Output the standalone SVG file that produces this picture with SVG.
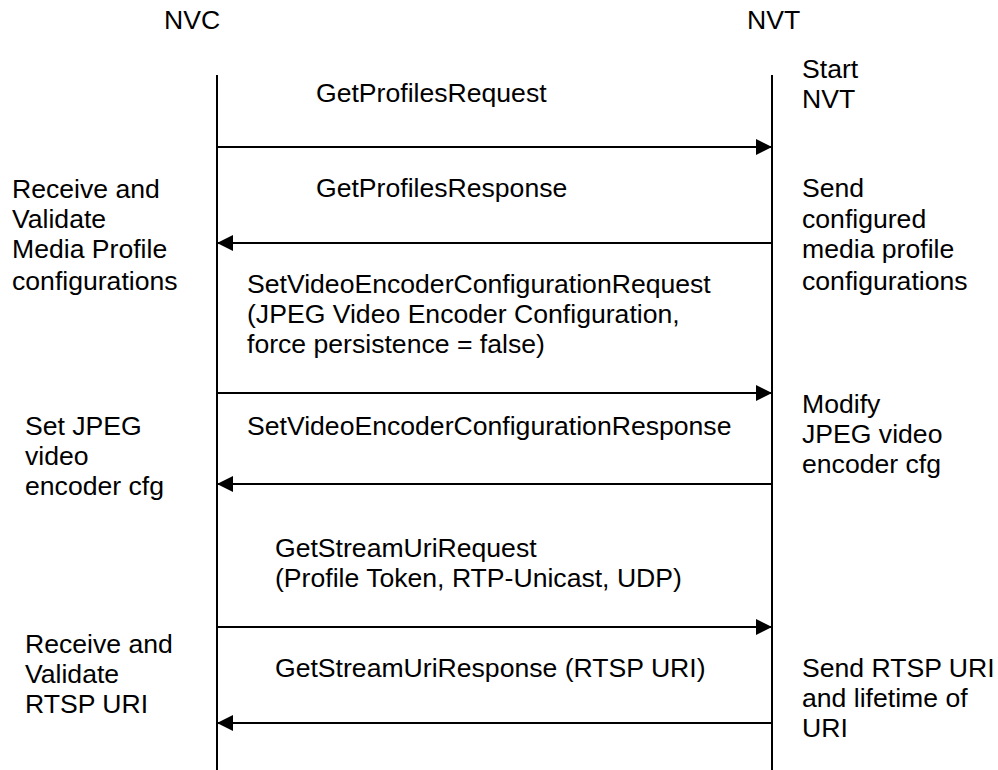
<svg xmlns="http://www.w3.org/2000/svg" width="998" height="770" viewBox="0 0 998 770">
<defs>
<style>
text{font-family:"Liberation Sans",Arial,sans-serif;font-size:26.6px;fill:#000}
.life{stroke:#000;stroke-width:2;fill:none}
.msg{stroke:#000;stroke-width:2;fill:none;marker-end:url(#ah)}
</style>
<marker id="ah" markerUnits="userSpaceOnUse" markerWidth="16" markerHeight="16" refX="16" refY="8" orient="auto" viewBox="0 0 16 16">
<path d="M0,0 L16,8 L0,16 z" fill="#000"/>
</marker>
</defs>
<rect width="998" height="770" fill="#fff"/>
<g id="nvc">
<text x="164" y="29">NVC</text>
<line class="life" x1="217" y1="75" x2="217" y2="770"/>
</g>
<g id="nvt">
<text x="747" y="29">NVT</text>
<line class="life" x1="772" y1="75" x2="772" y2="770"/>
</g>
<g id="notes-left">
<text x="12" y="198">Receive and</text>
<text x="12" y="228">Validate</text>
<text x="12" y="258">Media Profile</text>
<text x="12" y="290">configurations</text>
<text x="25" y="435">Set JPEG</text>
<text x="25" y="465">video</text>
<text x="25" y="495">encoder cfg</text>
<text x="25" y="653">Receive and</text>
<text x="25" y="683">Validate</text>
<text x="25" y="713">RTSP URI</text>
</g>
<g id="notes-right">
<text x="802" y="78">Start</text>
<text x="802" y="108">NVT</text>
<text x="802" y="197">Send</text>
<text x="802" y="228">configured</text>
<text x="802" y="258">media profile</text>
<text x="802" y="290">configurations</text>
<text x="802" y="413">Modify</text>
<text x="802" y="443">JPEG video</text>
<text x="802" y="473">encoder cfg</text>
<text x="802" y="677">Send RTSP URI</text>
<text x="802" y="707">and lifetime of</text>
<text x="802" y="737">URI</text>
</g>
<g id="connectors">
<line class="msg" x1="217" y1="147" x2="772" y2="147"/>
<line class="msg" x1="772" y1="243" x2="217" y2="243"/>
<line class="msg" x1="217" y1="393" x2="772" y2="393"/>
<line class="msg" x1="772" y1="484" x2="217" y2="484"/>
<line class="msg" x1="217" y1="627" x2="772" y2="627"/>
<line class="msg" x1="772" y1="723" x2="217" y2="723"/>
</g>
<g id="labels">
<text x="316" y="102">GetProfilesRequest</text>
<text x="316" y="197">GetProfilesResponse</text>
<text x="247" y="293">SetVideoEncoderConfigurationRequest</text>
<text x="247" y="323">(JPEG Video Encoder Configuration,</text>
<text x="247" y="353">force persistence = false)</text>
<text x="247" y="435">SetVideoEncoderConfigurationResponse</text>
<text x="275" y="557">GetStreamUriRequest</text>
<text x="275" y="587">(Profile Token, RTP-Unicast, UDP)</text>
<text x="275" y="677">GetStreamUriResponse (RTSP URI)</text>
</g>
</svg>
